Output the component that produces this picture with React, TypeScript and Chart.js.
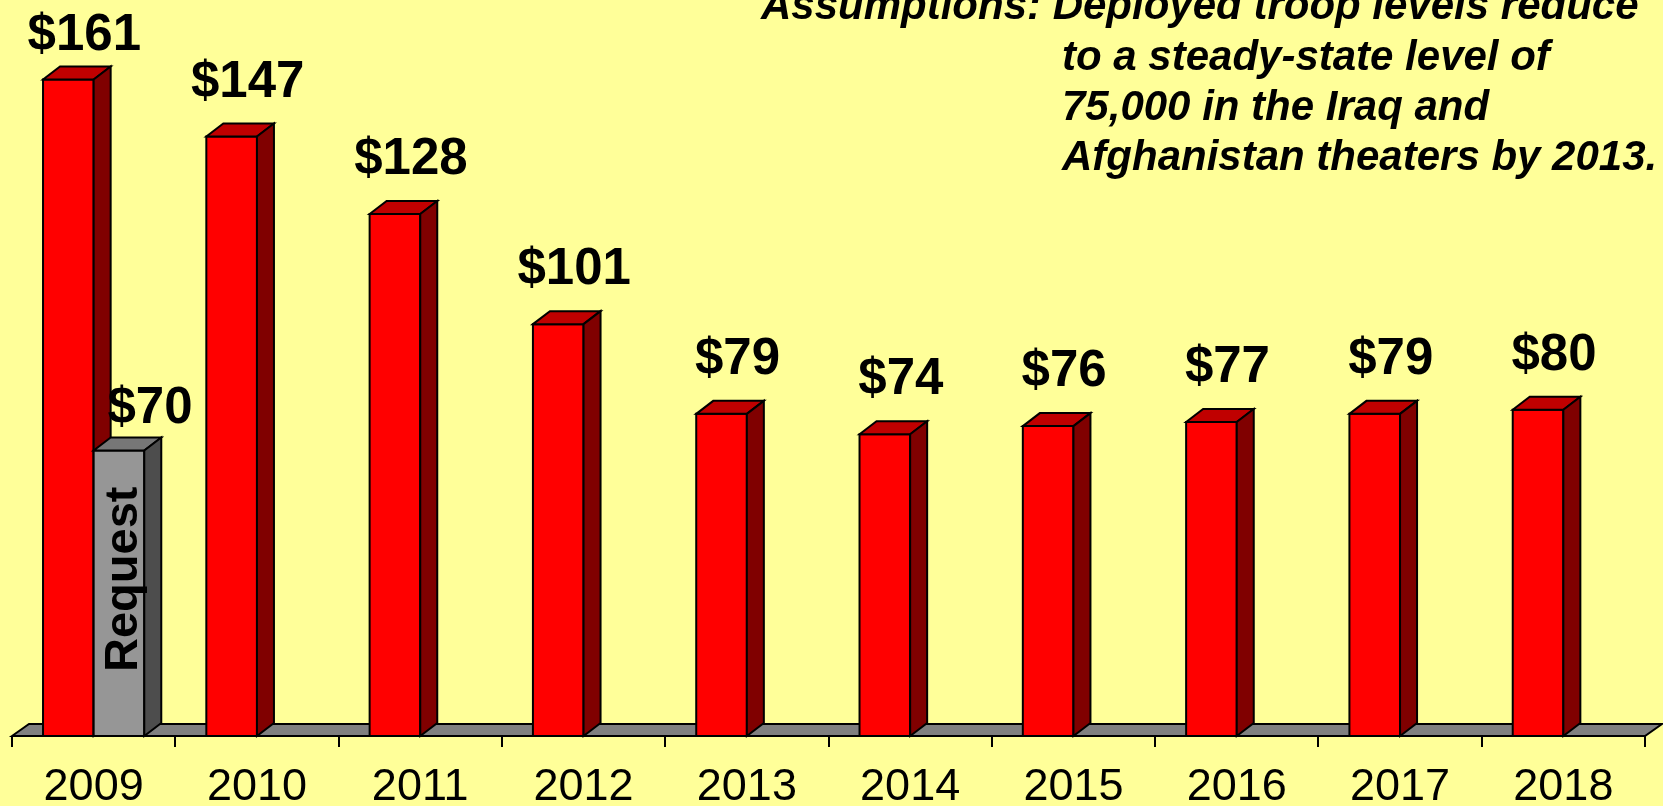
import React, { useEffect, useRef } from "react";
import { Chart, registerables } from "chart.js";

Chart.register(...registerables);

// ---- data ----
const years: string[] = ["2009", "2010", "2011", "2012", "2013", "2014", "2015", "2016", "2017", "2018"];
const costValues: number[] = [161, 147, 128, 101, 79, 74, 76, 77, 79, 80];
const requestValues: (number | null)[] = [70, null, null, null, null, null, null, null, null, null];
const requestText = "Request";
const noteLines: string[] = [
  "Assumptions: Deployed troop levels reduce",
  "to a steady-state level of",
  "75,000 in the Iraq and",
  "Afghanistan theaters by 2013.",
];

// ---- style ----
const W = 1663;
const H = 806;
const BG = "#FFFF99";
const FONT = '"Liberation Sans", Arial, Helvetica, sans-serif';
const DX = 17;
const DY = 13;
const faces = [
  { front: "#FF0000", top: "#C00000", side: "#800000" },
  { front: "#969696", top: "#777777", side: "#4D4D4D" },
];

const threeDPlugin = {
  id: "threeD",
  beforeDraw(chart: any) {
    const ctx = chart.ctx;
    ctx.save();
    ctx.fillStyle = BG;
    ctx.fillRect(0, 0, chart.width, chart.height);
    ctx.restore();
  },
  beforeDatasetsDraw(chart: any) {
    const ctx = chart.ctx;
    const xs = chart.scales.x;
    const ys = chart.scales.y;
    const base = ys.getPixelForValue(0);
    const left = xs.left;
    const right = xs.right;
    ctx.save();
    // floor
    ctx.beginPath();
    ctx.moveTo(left, base);
    ctx.lineTo(left + DX, base - DY + 1);
    ctx.lineTo(right + DX, base - DY + 1);
    ctx.lineTo(right, base);
    ctx.closePath();
    ctx.fillStyle = "#808080";
    ctx.fill();
    ctx.lineWidth = 2;
    ctx.strokeStyle = "#000";
    ctx.lineJoin = "miter";
    ctx.stroke();
    // axis line + ticks
    const cw = (right - left) / years.length;
    ctx.beginPath();
    ctx.moveTo(left, base);
    ctx.lineTo(right, base);
    for (let i = 0; i <= years.length; i++) {
      const tx = Math.round(xs.getPixelForValue(Math.min(i, years.length - 1)) + (i === years.length ? cw / 2 : -cw / 2));
      ctx.moveTo(tx, base);
      ctx.lineTo(tx, base + 11);
    }
    ctx.stroke();
    // tick labels
    ctx.fillStyle = "#000";
    ctx.font = `45px ${FONT}`;
    ctx.textAlign = "center";
    ctx.textBaseline = "alphabetic";
    years.forEach((y, i) => {
      ctx.fillText(y, xs.getPixelForValue(i), 800);
    });
    ctx.restore();
  },
  afterDatasetsDraw(chart: any) {
    const ctx = chart.ctx;
    const metas = [chart.getDatasetMeta(0), chart.getDatasetMeta(1)];
    const dataArrays = [costValues, requestValues];
    ctx.save();
    ctx.lineWidth = 2;
    ctx.strokeStyle = "#000";
    ctx.lineJoin = "miter";
    for (let i = 0; i < years.length; i++) {
      for (let d = 0; d < 2; d++) {
        const v = dataArrays[d][i];
        if (v === null || v === undefined) continue;
        const el = metas[d].data[i];
        const p = el.getProps(["x", "y", "base", "width"], true);
        const l = p.x - p.width / 2;
        const r = p.x + p.width / 2;
        const t = p.y;
        const b = p.base;
        const f = faces[d];
        // front
        ctx.beginPath();
        ctx.rect(l, t, r - l, b - t);
        ctx.fillStyle = f.front;
        ctx.fill();
        ctx.stroke();
        // top
        ctx.beginPath();
        ctx.moveTo(l, t);
        ctx.lineTo(l + DX, t - DY);
        ctx.lineTo(r + DX, t - DY);
        ctx.lineTo(r, t);
        ctx.closePath();
        ctx.fillStyle = f.top;
        ctx.fill();
        ctx.stroke();
        // side
        ctx.beginPath();
        ctx.moveTo(r, t);
        ctx.lineTo(r + DX, t - DY);
        ctx.lineTo(r + DX, b - DY);
        ctx.lineTo(r, b);
        ctx.closePath();
        ctx.fillStyle = f.side;
        ctx.fill();
        ctx.stroke();
      }
    }
    // value labels
    ctx.fillStyle = "#000";
    ctx.font = `bold 51px ${FONT}`;
    ctx.textAlign = "center";
    ctx.textBaseline = "alphabetic";
    for (let i = 0; i < years.length; i++) {
      const el = metas[0].data[i];
      const p = el.getProps(["x", "y"], true);
      ctx.fillText(`$${costValues[i]}`, p.x + 16, Math.max(p.y - 40, 50));
    }
    for (let i = 0; i < years.length; i++) {
      const v = requestValues[i];
      if (v === null) continue;
      const el = metas[1].data[i];
      const p = el.getProps(["x", "y", "base"], true);
      ctx.fillText(`$${v}`, p.x + 31, p.y - 28);
      // rotated "Request"
      ctx.save();
      ctx.translate(p.x + 18, (p.y + p.base) / 2 - 14);
      ctx.rotate(-Math.PI / 2);
      ctx.font = `bold 47px ${FONT}`;
      ctx.textAlign = "center";
      ctx.fillText(requestText, 0, 0);
      ctx.restore();
    }
    // note
    ctx.font = `italic bold 42px ${FONT}`;
    ctx.textAlign = "left";
    ctx.fillText(noteLines[0], 761, 19);
    ctx.fillText(noteLines[1], 1062, 70);
    ctx.fillText(noteLines[2], 1062, 120);
    ctx.fillText(noteLines[3], 1062, 170);
    ctx.restore();
  },
};

export default function App() {
  const canvasRef = useRef<HTMLCanvasElement | null>(null);

  useEffect(() => {
    document.body.style.margin = "0";
    document.body.style.overflow = "hidden";
    document.body.style.background = BG;
    const canvas = canvasRef.current;
    if (!canvas) return;
    const chart = new Chart(canvas, {
      type: "bar",
      data: {
        labels: years,
        datasets: [
          {
            label: "Cost",
            data: costValues,
            backgroundColor: faces[0].front,
            borderColor: "#000",
            borderWidth: 0,
            barPercentage: 1,
            categoryPercentage: 0.62,
          },
          {
            label: "Request",
            data: requestValues,
            backgroundColor: faces[1].front,
            borderColor: "#000",
            borderWidth: 0,
            barPercentage: 1,
            categoryPercentage: 0.62,
          },
        ],
      },
      options: {
        responsive: false,
        animation: false,
        devicePixelRatio: 1,
        layout: { padding: { left: 12, right: 18, top: 2, bottom: 70 } },
        plugins: {
          legend: { display: false },
          tooltip: { enabled: false },
          title: { display: false },
        },
        scales: {
          x: { display: false, offset: true, grid: { display: false } },
          y: { display: false, min: 0, max: 180, grid: { display: false } },
        },
      },
      plugins: [threeDPlugin],
    });
    return () => chart.destroy();
  }, []);

  return (
    <div style={{ position: "fixed", left: 0, top: 0, width: W, height: H, background: BG }}>
      <canvas ref={canvasRef} width={W} height={H} style={{ display: "block", width: W, height: H }} />
    </div>
  );
}
